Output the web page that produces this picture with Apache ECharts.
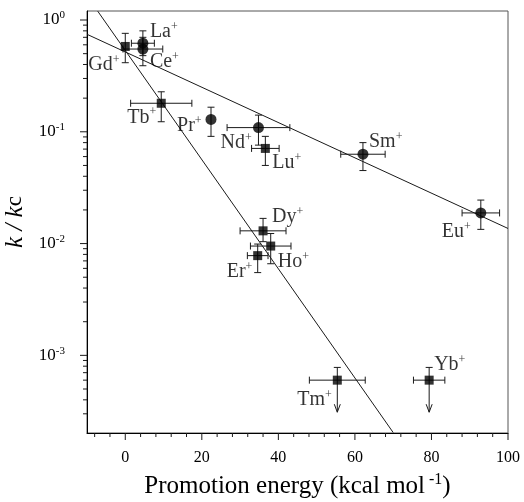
<!DOCTYPE html>
<html>
<head>
<meta charset="utf-8"/>
<title>k/kc vs promotion energy</title>
<script src="https://cdn.jsdelivr.net/npm/echarts@6/dist/echarts.min.js"></script>
<style>
html,body{margin:0;padding:0;background:#fff}
#main{width:524px;height:502px}
</style>
</head>
<body>
<div id="main"></div>
<script>
// values
var ions       = ['La','Ce','Gd','Tb','Pr','Nd','Lu','Sm','Eu','Dy','Ho','Er','Tm','Yb'];
var shapes     = ['circle','circle','rect','rect','circle','circle','rect','circle','circle','rect','rect','rect','rect','rect'];
var energy     = [4.6, 4.6, 0, 9.4, 22.4, 34.8, 36.6, 62.1, 92.9, 36.0, 38.0, 34.6, 55.4, 79.4];
var energyErr  = [3, 5.2, 0, 8, 0, 8.2, 3.6, 5.8, 4.9, 6, 5.3, 2.7, 7.3, 4.1];
var ratio      = [0.62, 0.55, 0.58, 0.18, 0.129, 0.109, 0.071, 0.063, 0.0188, 0.0130, 0.0095, 0.0078, 0.0006, 0.0006];
var ratioLo    = [0.48, 0.39, 0.415, 0.123, 0.091, 0.076, 0.050, 0.045, 0.0134, 0.0104, 0.0066, 0.0055, 0.00031, 0.00031];
var ratioHi    = [0.80, 0.70, 0.76, 0.228, 0.166, 0.141, 0.091, 0.080, 0.0245, 0.0168, 0.0123, 0.0099, 0.00078, 0.00078];
var upperLimit = [0,0,0,0,0,0,0,0,0,0,0,0,1,1];

// the two fitted lines (end points)
var fitShallow = [[-10, 0.745], [100, 0.01365]];
var fitSteep   = [[-7.2, 1.2], [70.0, 0.000204]];

// axis ticks
var xMajorTicks = [0, 20, 40, 60, 80, 100];
var xMinorTicks = [-8,-4,4,8,12,16,24,28,32,36,44,48,52,56,64,68,72,76,84,88,92,96];
var yMajorTicks = [0.001, 0.01, 0.1, 1];
var yMinorTicks = [3e-4,4e-4,5e-4,6e-4,7e-4,8e-4,9e-4,
                   2e-3,3e-3,4e-3,5e-3,6e-3,7e-3,8e-3,9e-3,
                   0.02,0.03,0.04,0.05,0.06,0.07,0.08,0.09,
                   0.2,0.3,0.4,0.5,0.6,0.7,0.8,0.9];

// label placement (px from the marker centre to the label's left/middle)
var labelOffset = [[7,-11],[7,13],[-37,18],[-34,14],[-34,6],[-38,15],[7,14],[6,-12],[-39,19],[9,-14],[7,16],[-31,16],[-40,20],[5,-15]];

var X_MIN = -10, X_MAX = 100, Y_MIN = 0.000202, Y_MAX = 1.204;
var FONT = 'Liberation Serif';

var supRich = {
    n: {fontFamily: FONT, fontSize: 20, lineHeight: 22, color: '#000'},
    s: {fontFamily: FONT, fontSize: 12, verticalAlign: 'top', color: '#000'}
};

var pts = [], errs = [];
for (var i = 0; i < ions.length; i++) {
    var isCircle = shapes[i] == 'circle';
    pts.push({
        value: [energy[i], ratio[i]],
        symbol: shapes[i],
        symbolSize: isCircle ? 11 : 9,
        label: {
            show: true,
            position: 'inside',
            align: 'left',
            verticalAlign: 'middle',
            offset: labelOffset[i],
            color: '#000',
            formatter: '{n|' + ions[i] + '}{s|+}',
            rich: supRich
        }
    });
    errs.push([energy[i], ratio[i], energyErr[i], ratioLo[i], ratioHi[i], upperLimit[i]]);
}

var xTickData = [], yTickData = [];
xMajorTicks.forEach(function(v){ xTickData.push([v, Y_MIN, 1]); });
xMinorTicks.forEach(function(v){ xTickData.push([v, Y_MIN, 0]); });
yMajorTicks.forEach(function(v){ yTickData.push([X_MIN, v, 1]); });
yMinorTicks.forEach(function(v){ yTickData.push([X_MIN, v, 0]); });

function seg(x1, y1, x2, y2) {
    return {type: 'line', shape: {x1: x1, y1: y1, x2: x2, y2: y2},
            style: {stroke: '#1a1a1a', lineWidth: 1}};
}

function renderErr(params, api) {
    var x = api.value(0), y = api.value(1), xe = api.value(2);
    var lo = api.value(3), hi = api.value(4), lim = api.value(5);
    var c = api.coord([x, y]);
    var t = api.coord([x, hi]);
    var b = api.coord([x, lo]);
    var cap = 3.5;
    var ch = [];
    ch.push(seg(c[0], t[1], c[0], b[1]));
    ch.push(seg(c[0]-cap, t[1], c[0]+cap, t[1]));
    if (lim) {
        ch.push({type: 'polyline', shape: {points: [[c[0]-3, b[1]-8], [c[0], b[1]], [c[0]+3, b[1]-8]]},
                 style: {stroke: '#1a1a1a', lineWidth: 1, fill: null}});
    } else {
        ch.push(seg(c[0]-cap, b[1], c[0]+cap, b[1]));
    }
    if (xe > 0) {
        var l = api.coord([x - xe, y]), r = api.coord([x + xe, y]);
        ch.push(seg(l[0], c[1], r[0], c[1]));
        ch.push(seg(l[0], c[1]-cap, l[0], c[1]+cap));
        ch.push(seg(r[0], c[1]-cap, r[0], c[1]+cap));
    }
    return {type: 'group', children: ch};
}

function renderXTick(params, api) {
    var p = api.coord([api.value(0), api.value(1)]);
    var len = api.value(2) ? 7 : 4;
    return seg(p[0], p[1], p[0], p[1] + len);
}

function renderYTick(params, api) {
    var p = api.coord([api.value(0), api.value(1)]);
    var len = api.value(2) ? 7 : 4;
    return seg(p[0] - len, p[1], p[0], p[1]);
}

var myChart = echarts.init(document.getElementById('main'));

var option = {
    animation: false,
    backgroundColor: '#fff',
    grid: {left: 87, right: 16, top: 11, bottom: 69, show: true,
           outerBoundsMode: 'none', containLabel: false,
           borderColor: '#555', borderWidth: 1},
    xAxis: {
        type: 'value', min: X_MIN, max: X_MAX, splitNumber: 5,
        axisLine: {show: true, onZero: false, lineStyle: {color: '#000', width: 1}},
        axisTick: {show: false},
        splitLine: {show: false},
        axisLabel: {
            fontFamily: FONT, fontSize: 16, color: '#000', margin: 17,
            formatter: function(v){ return v % 20 === 0 ? String(v) : ''; }
        },
        name: '{n|Promotion energy (kcal mol}{s| -1}{n|)}',
        nameLocation: 'middle', nameGap: 39,
        nameTextStyle: {
            rich: {
                n: {fontFamily: FONT, fontSize: 25, lineHeight: 28, color: '#000'},
                s: {fontFamily: FONT, fontSize: 16, verticalAlign: 'top', color: '#000'}
            }
        }
    },
    yAxis: {
        type: 'log', logBase: 10, min: Y_MIN, max: Y_MAX,
        axisLine: {show: true, onZero: false, lineStyle: {color: '#000', width: 1}},
        axisTick: {show: false},
        splitLine: {show: false},
        minorTick: {show: false},
        axisLabel: {
            margin: 22,
            formatter: function(v){
                var e = Math.log10(v);
                if (Math.abs(e - Math.round(e)) > 1e-6) return '';
                return '{b|10}{e|' + Math.round(e) + '}';
            },
            rich: {
                b: {fontFamily: FONT, fontSize: 17, lineHeight: 20, color: '#000'},
                e: {fontFamily: FONT, fontSize: 11, verticalAlign: 'top', color: '#000'}
            }
        },
        name: '{i|k / k}{c|c}',
        nameLocation: 'middle', nameGap: 47, nameRotate: 90,
        nameTextStyle: {
            rich: {
                i: {fontFamily: FONT, fontSize: 25, fontStyle: 'italic', color: '#000'},
                c: {fontFamily: FONT, fontSize: 23, color: '#000'}
            }
        }
    },
    series: [
        {type: 'line', data: fitShallow, showSymbol: false, symbol: 'none', clip: true,
         lineStyle: {color: '#1a1a1a', width: 1}, silent: true, z: 2},
        {type: 'line', data: fitSteep, showSymbol: false, symbol: 'none', clip: true,
         lineStyle: {color: '#1a1a1a', width: 1}, silent: true, z: 2},
        {type: 'custom', data: errs, renderItem: renderErr, encode: {x: 0, y: 1}, silent: true, z: 3},
        {type: 'scatter', data: pts, itemStyle: {color: '#000'}, z: 4},
        {type: 'custom', data: xTickData, renderItem: renderXTick, encode: {x: 0, y: 1}, silent: true, clip: false, z: 5},
        {type: 'custom', data: yTickData, renderItem: renderYTick, encode: {x: 0, y: 1}, silent: true, clip: false, z: 5}
    ]
};

myChart.setOption(option);
</script>
</body>
</html>
